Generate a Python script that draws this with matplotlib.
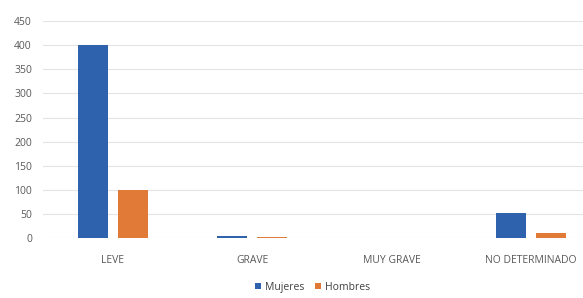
import numpy as np
from matplotlib import pyplot as plt

# datos
categorias = ['LEVE', 'GRAVE', 'MUY GRAVE', 'NO DETERMINADO']
mujeres = [400, 5, 0, 52]
hombres = [100, 3, 0, 11]

plt.rcParams['font.family'] = ['Open Sans', 'DejaVu Sans']

fig = plt.figure(figsize=(5.83, 2.98), dpi=100)
ax = fig.add_axes([0.0738, 0.201, 0.957, 0.7282])

x = np.arange(len(categorias))
w = 0.215
ax.bar(x - 0.143, mujeres, w, color='#2F62AC', label='Mujeres')
ax.bar(x + 0.143, hombres, w, color='#E07A36', label='Hombres')

ax.set_xlim(-0.5, len(categorias) - 0.5)
ax.set_ylim(0, 450)
ax.set_yticks(range(0, 451, 50))
ax.set_xticks(x)
ax.set_xticklabels(categorias)
ax.yaxis.grid(True, color='#E4E4E4', linewidth=0.8)
ax.set_axisbelow(True)
for s in ax.spines.values():
    s.set_visible(False)
ax.tick_params(axis='both', length=0, colors='#595959', labelsize=7.5)
ax.tick_params(axis='x', pad=12)
ax.tick_params(axis='y', pad=8)

fig.legend(loc='center', bbox_to_anchor=(0.536, 0.036), ncol=2, frameon=False,
           fontsize=7.5, handlelength=0.6, handleheight=0.6, handletextpad=0.4,
           columnspacing=1.0, labelcolor='#404040')

plt.savefig('out.png', dpi=100)
